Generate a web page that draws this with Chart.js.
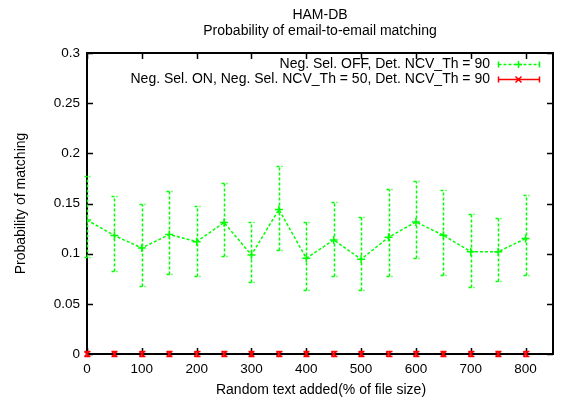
<!DOCTYPE html>
<html>
<head>
<meta charset="utf-8">
<script src="https://cdn.jsdelivr.net/npm/chart.js@4/dist/chart.umd.min.js"></script>
<style>
  html, body { margin: 0; padding: 0; background: #fff; }
  canvas { display: block; }
</style>
</head>
<body>
<canvas id="c" width="566" height="401"></canvas>
<script>
// ---- data ----
const xValues = [0, 50, 100, 150, 200, 250, 300, 350, 400, 450, 500, 550, 600, 650, 700, 750, 800];
const offMean = [0.1335, 0.118, 0.1057, 0.119, 0.112, 0.131, 0.0987, 0.144, 0.0954, 0.1137, 0.0944, 0.1163, 0.1316, 0.1183, 0.102, 0.102, 0.115];
const offHigh = [0.177, 0.157, 0.150, 0.162, 0.148, 0.170, 0.1316, 0.1877, 0.1316, 0.1515, 0.137, 0.164, 0.172, 0.163, 0.140, 0.136, 0.158];
const offLow  = [0.097, 0.083, 0.068, 0.080, 0.078, 0.098, 0.0718, 0.104, 0.0638, 0.0778, 0.0638, 0.0778, 0.0954, 0.0788, 0.0665, 0.0728, 0.0788];
const onMean  = [0, 0, 0, 0, 0, 0, 0, 0, 0, 0, 0, 0, 0, 0, 0, 0, 0];
const onHigh  = [0.003, 0.003, 0.003, 0.003, 0.003, 0.003, 0.003, 0.003, 0.003, 0.003, 0.003, 0.003, 0.003, 0.003, 0.003, 0.003, 0.003];
const onLow   = [-0.002, -0.002, -0.002, -0.002, -0.002, -0.002, -0.002, -0.002, -0.002, -0.002, -0.002, -0.002, -0.002, -0.002, -0.002, -0.002, -0.002];
const seriesLabels = ["Neg. Sel. OFF, Det. NCV_Th = 90", "Neg. Sel. ON, Neg. Sel. NCV_Th = 50, Det. NCV_Th = 90"];
const titleLines = ["HAM-DB", "Probability of email-to-email matching"];
const xTitle = "Random text added(% of file size)";
const yTitle = "Probability of matching";

const FONT = "Liberation Sans, Arial, Helvetica, sans-serif";
const FS = 14;
const TFS = 13.5;
const GREEN = "#00ff00";
const RED = "#ff0000";
const LW = 1.5;

function toPoints(ys) { return xValues.map((x, i) => ({ x: x, y: ys[i] })); }

const errorSets = [
  { low: offLow, high: offHigh, color: GREEN, dash: [3, 2] },
  { low: onLow, high: onHigh, color: RED, dash: [] }
];

const framePlugin = {
  id: 'frame',
  beforeDatasetsDraw(chart) {
    const { ctx, chartArea: a, scales } = chart;
    ctx.save();
    ctx.strokeStyle = '#000';
    ctx.lineWidth = 2;
    ctx.strokeRect(a.left, a.top, a.right - a.left, a.bottom - a.top);
    ctx.lineWidth = 1.5;
    const tl = 6;
    ctx.beginPath();
    scales.y.ticks.forEach(t => {
      const py = Math.round(scales.y.getPixelForValue(t.value)) + 0.5;
      ctx.moveTo(a.left, py); ctx.lineTo(a.left + tl, py);
      ctx.moveTo(a.right, py); ctx.lineTo(a.right - tl, py);
    });
    scales.x.ticks.forEach(t => {
      const px = Math.round(scales.x.getPixelForValue(t.value)) + 0.5;
      ctx.moveTo(px, a.bottom); ctx.lineTo(px, a.bottom - tl);
      ctx.moveTo(px, a.top); ctx.lineTo(px, a.top + tl);
    });
    ctx.stroke();
    ctx.restore();
  },
  afterDatasetsDraw(chart) {
    const { ctx, chartArea: a, scales } = chart;
    ctx.save();
    // error bars
    errorSets.forEach(es => {
      ctx.strokeStyle = es.color;
      ctx.lineWidth = LW;
      ctx.setLineDash(es.dash);
      xValues.forEach((xv, i) => {
        const px = Math.round(scales.x.getPixelForValue(xv)) + 0.5;
        const yl = Math.round(scales.y.getPixelForValue(es.low[i])) + 0.5;
        const yh = Math.round(scales.y.getPixelForValue(es.high[i])) + 0.5;
        ctx.beginPath();
        ctx.moveTo(px, yl); ctx.lineTo(px, yh);
        ctx.moveTo(px - 3, yl); ctx.lineTo(px + 3, yl);
        ctx.moveTo(px - 3, yh); ctx.lineTo(px + 3, yh);
        ctx.stroke();
      });
    });
    ctx.setLineDash([]);
    // titles
    ctx.fillStyle = '#000';
    ctx.font = FS + 'px ' + FONT;
    ctx.textAlign = 'center';
    ctx.textBaseline = 'middle';
    const cx = (a.left + a.right) / 2;
    ctx.fillText(titleLines[0], cx, 15);
    ctx.fillText(titleLines[1], cx, 31);
    ctx.fillText(xTitle, cx + 1, 390);
    ctx.save();
    ctx.translate(21, (a.top + a.bottom) / 2);
    ctx.rotate(-Math.PI / 2);
    ctx.fillText(yTitle, 0, 0);
    ctx.restore();
    // legend
    const legendRows = [
      { y: 64, color: GREEN, dash: [3, 2], style: 'plus' },
      { y: 79, color: RED, dash: [], style: 'x' }
    ];
    ctx.textAlign = 'right';
    legendRows.forEach((r, i) => {
      ctx.fillStyle = '#000';
      ctx.fillText(seriesLabels[i], 490, r.y + 0.5);
      const x0 = 498.5, x1 = 539.5, xm = 518.5, yy = r.y + 0.5;
      ctx.strokeStyle = r.color;
      ctx.lineWidth = LW;
      ctx.setLineDash(r.dash);
      ctx.beginPath();
      ctx.moveTo(x0, yy); ctx.lineTo(x1, yy);
      ctx.stroke();
      ctx.setLineDash([]);
      ctx.beginPath();
      ctx.moveTo(x0, yy - 3); ctx.lineTo(x0, yy + 3);
      ctx.moveTo(x1, yy - 3); ctx.lineTo(x1, yy + 3);
      if (r.style === 'plus') {
        ctx.moveTo(xm - 3.5, yy); ctx.lineTo(xm + 3.5, yy);
        ctx.moveTo(xm, yy - 3.5); ctx.lineTo(xm, yy + 3.5);
      } else {
        ctx.moveTo(xm - 3, yy - 3); ctx.lineTo(xm + 3, yy + 3);
        ctx.moveTo(xm - 3, yy + 3); ctx.lineTo(xm + 3, yy - 3);
      }
      ctx.stroke();
    });
    ctx.restore();
  }
};

new Chart(document.getElementById('c'), {
  type: 'line',
  data: {
    datasets: [
      {
        label: seriesLabels[0],
        data: toPoints(offMean),
        borderColor: GREEN,
        backgroundColor: GREEN,
        borderWidth: LW,
        borderDash: [3, 2],
        pointStyle: 'cross',
        pointRadius: 4,
        pointBorderWidth: LW,
        pointBorderColor: GREEN,
        tension: 0,
        fill: false
      },
      {
        label: seriesLabels[1],
        data: toPoints(onMean),
        borderColor: RED,
        backgroundColor: RED,
        borderWidth: LW,
        showLine: false,
        pointStyle: 'crossRot',
        pointRadius: 3.5,
        pointBorderWidth: LW,
        pointBorderColor: RED,
        tension: 0,
        fill: false,
        clip: false
      }
    ]
  },
  options: {
    responsive: false,
    devicePixelRatio: 1,
    animation: false,
    layout: { padding: { left: 0, top: 53, right: 13, bottom: 0 } },
    plugins: { legend: { display: false }, tooltip: { enabled: false }, title: { display: false } },
    scales: {
      x: {
        type: 'linear',
        min: 0,
        max: 850,
        grid: { display: false, drawTicks: false },
        border: { display: false },
        ticks: {
          stepSize: 100,
          includeBounds: false,
          padding: 7,
          color: '#000',
          font: { family: FONT, size: TFS },
          maxRotation: 0
        },
        afterFit(s) { s.height = 47; }
      },
      y: {
        min: 0,
        max: 0.3,
        grid: { display: false, drawTicks: false },
        border: { display: false },
        ticks: {
          stepSize: 0.05,
          padding: 7,
          color: '#000',
          font: { family: FONT, size: TFS },
          callback: (v) => String(parseFloat(Number(v).toFixed(2)))
        },
        afterFit(s) { s.width = 87; }
      }
    }
  },
  plugins: [framePlugin]
});
</script>
</body>
</html>
